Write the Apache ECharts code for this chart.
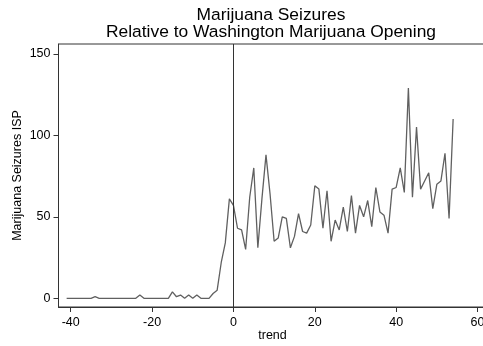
<!DOCTYPE html>
<html>
<head>
<meta charset="utf-8">
<script src="https://cdn.jsdelivr.net/npm/echarts@6/dist/echarts.min.js"></script>
<style>
html,body{margin:0;padding:0;background:#fff;}
#chart{width:483px;height:346px;}
</style>
</head>
<body>
<div id="chart"></div>
<script>
var titleLines = ['Marijuana Seizures', 'Relative to Washington Marijuana Opening'];
var xAxisTitle = 'trend';
var yAxisTitle = 'Marijuana Seizures ISP';
var xTicks = [-40, -20, 0, 20, 40, 60];
var yTicks = [0, 50, 100, 150];
var openingTrend = 0;

var trend = [
  -41,-40,-39,-38,-37,-36,-35,-34,-33,-32,-31,-30,-29,-28,-27,-26,-25,-24,-23,-22,-21,-20,-19,-18,-17,-16,
  -15,-14,-13,-12,-11,-10,-9,-8,-7,-6,-5,-4,-3,-2,-1,
  0,1,2,3,4,5,6,7,8,9,10,11,12,13,14,15,16,17,18,19,20,
  21,22,23,24,25,26,27,28,29,30,31,32,33,34,35,36,37,38,39,40,
  41,42,43,44,45,46,47,48,49,50,51,52,53,54
];
var seizures = [
  0,0,0,0,0,0,0,1,0,0,0,0,0,0,0,0,0,0,2,0,0,0,0,0,0,0,
  4,1,2,0,2,0,2,0,0,0,3,5,22,34,61,
  57,43,42,30,62,80,31,61,88,64,35,37,50,49,31,38,52,41,40,45,69,
  67,43,66,35,48,42,56,41,63,40,57,50,60,44,68,53,51,40,67,68,
  80,65,129,62,105,67,72,77,55,70,72,89,49,110
];

var data = trend.map(function (t, i) { return [t, seizures[i]]; });

var chart = echarts.init(document.getElementById('chart'), null, {renderer: 'canvas'});
var font = '"Liberation Sans", Arial, sans-serif';
chart.setOption({
  animation: false,
  backgroundColor: '#ffffff',
  title: {
    text: titleLines.join('\n'),
    left: 266,
    textAlign: 'center',
    top: 1,
    textStyle: {fontFamily: font, fontSize: 17.4, fontWeight: 'normal', color: '#000', lineHeight: 17.5}
  },
  grid: {
    left: 58.5, top: 44, width: 428, height: 263,
    outerBoundsMode: 'none', containLabel: false,
    show: true, borderColor: '#333', borderWidth: 1, backgroundColor: 'transparent'
  },
  xAxis: {
    type: 'value', min: -43, max: 62.2,
    name: xAxisTitle, nameLocation: 'middle', nameGap: 22, nameMoveOverlap: false,
    nameTextStyle: {fontFamily: font, fontSize: 12.5, color: '#000'},
    axisLine: {show: true, onZero: false, lineStyle: {color: '#333', width: 1}},
    axisTick: {show: true, length: 5, customValues: xTicks, lineStyle: {color: '#333'}},
    axisLabel: {customValues: xTicks, margin: 9, fontFamily: font, fontSize: 12.5, color: '#000'},
    splitLine: {show: false}
  },
  yAxis: {
    type: 'value', min: -5.3, max: 156,
    name: yAxisTitle, nameLocation: 'middle', nameGap: 34, nameMoveOverlap: false,
    nameTextStyle: {fontFamily: font, fontSize: 12.5, color: '#000'},
    axisLine: {show: true, onZero: false, lineStyle: {color: '#333', width: 1}},
    axisTick: {show: true, length: 5, customValues: yTicks, lineStyle: {color: '#333'}},
    axisLabel: {customValues: yTicks, margin: 8, fontFamily: font, fontSize: 12.5, color: '#000'},
    splitLine: {show: false}
  },
  series: [{
    type: 'line',
    data: data,
    symbol: 'none',
    lineStyle: {color: '#606060', width: 1.3},
    markLine: {
      silent: true, symbol: 'none',
      label: {show: false},
      lineStyle: {color: '#333', width: 1, type: 'solid'},
      data: [{xAxis: openingTrend}]
    }
  }]
});
</script>
</body>
</html>
